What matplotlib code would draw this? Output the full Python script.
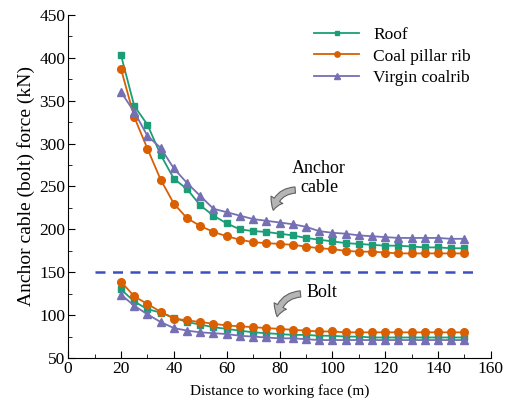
import matplotlib
matplotlib.use('Agg')
import matplotlib.pyplot as plt
from matplotlib.patches import FancyArrowPatch
from matplotlib.ticker import MultipleLocator

plt.rcParams['font.family'] = ['Liberation Serif', 'DejaVu Serif']

dist = [20, 25, 30, 35, 40, 45, 50, 55, 60, 65, 70, 75, 80, 85, 90, 95,
        100, 105, 110, 115, 120, 125, 130, 135, 140, 145, 150]

# anchor cable force (kN)
roof_cable = [403, 344, 322, 287, 259, 247, 228, 216, 207, 200, 198, 197, 195, 193, 190, 188,
              186, 184, 183, 182, 181, 181, 180, 179, 179, 178, 178]
coal_cable = [387, 331, 294, 258, 230, 213, 204, 197, 192, 188, 185, 184, 183, 182, 180, 178,
              177, 175, 174, 174, 173, 172, 172, 172, 172, 172, 172]
virgin_cable = [360, 337, 309, 295, 271, 254, 239, 224, 220, 216, 212, 210, 208, 206, 203, 198,
                196, 195, 193, 192, 191, 190, 190, 190, 190, 189, 189]

# bolt force (kN)
roof_bolt = [130, 116, 107, 103, 97, 92, 89, 86, 84, 82, 80, 79, 78, 77, 77, 76,
             76, 75, 75, 74, 74, 74, 74, 74, 74, 74, 74]
coal_bolt = [139, 122, 113, 104, 96, 94, 92, 90, 88, 87, 86, 85, 84, 83, 82, 81,
             81, 80, 80, 80, 80, 80, 80, 80, 80, 80, 80]
virgin_bolt = [124, 111, 101, 92, 85, 82, 80, 79, 78, 76, 75, 74, 73, 73, 72, 71,
               71, 71, 71, 71, 71, 71, 71, 71, 71, 71, 71]

c_roof = '#1b9e77'
c_coal = '#d95f02'
c_virgin = '#7570b3'

fig = plt.figure(figsize=(5.05, 4.13), dpi=100)
ax = fig.add_axes([0.135, 0.133, 0.837, 0.831])

l1, = ax.plot(dist, roof_cable, '-s', color=c_roof, markersize=5, linewidth=1.3)
l2, = ax.plot(dist, coal_cable, '-o', color=c_coal, markersize=5.5, linewidth=1.3)
l3, = ax.plot(dist, virgin_cable, '-^', color=c_virgin, markersize=5.5, linewidth=1.3)
ax.plot(dist, roof_bolt, '-s', color=c_roof, markersize=5, linewidth=1.3)
ax.plot(dist, coal_bolt, '-o', color=c_coal, markersize=5.5, linewidth=1.3)
ax.plot(dist, virgin_bolt, '-^', color=c_virgin, markersize=5.5, linewidth=1.3)

ax.plot([10, 155], [150, 150], '--', color='#3a50c0', linewidth=1.8, dashes=(4, 3))

l1.set_label('Roof')
l2.set_label('Coal pillar rib')
l3.set_label('Virgin coalrib')
ax.legend(loc='upper right', bbox_to_anchor=(0.99, 1.01), frameon=False, fontsize=12.5,
          handlelength=2.6, labelspacing=0.3, markerscale=0.7)

# annotations with curved grey arrows
ax.text(95, 260, 'Anchor\ncable', fontsize=13, ha='center', va='center', linespacing=1.1)
arr1 = FancyArrowPatch((87, 246), (77.5, 219), connectionstyle='arc3,rad=0.45',
                       arrowstyle='simple,head_width=10,head_length=8,tail_width=4.5',
                       facecolor='#b5b5b5', edgecolor='#606060', linewidth=0.8)
ax.add_patch(arr1)
ax.text(96, 127, 'Bolt', fontsize=13, ha='center', va='center')
arr2 = FancyArrowPatch((89, 125), (79, 95), connectionstyle='arc3,rad=0.45',
                       arrowstyle='simple,head_width=10,head_length=8,tail_width=4.5',
                       facecolor='#b5b5b5', edgecolor='#606060', linewidth=0.8)
ax.add_patch(arr2)

ax.set_xlim(0, 160)
ax.set_ylim(50, 450)
ax.xaxis.set_major_locator(MultipleLocator(20))
ax.xaxis.set_minor_locator(MultipleLocator(10))
ax.yaxis.set_major_locator(MultipleLocator(50))
ax.yaxis.set_minor_locator(MultipleLocator(25))
ax.tick_params(which='both', direction='in', labelsize=12.5, pad=2)
ax.tick_params(which='major', length=5)
ax.tick_params(which='minor', length=3)
ax.spines['top'].set_visible(False)
ax.spines['right'].set_visible(False)
ax.set_xlabel('Distance to working face (m)', fontsize=11, labelpad=5)
ax.set_ylabel('Anchor cable (bolt) force (kN)', fontsize=14, labelpad=3)

fig.savefig('out.png', dpi=100)
